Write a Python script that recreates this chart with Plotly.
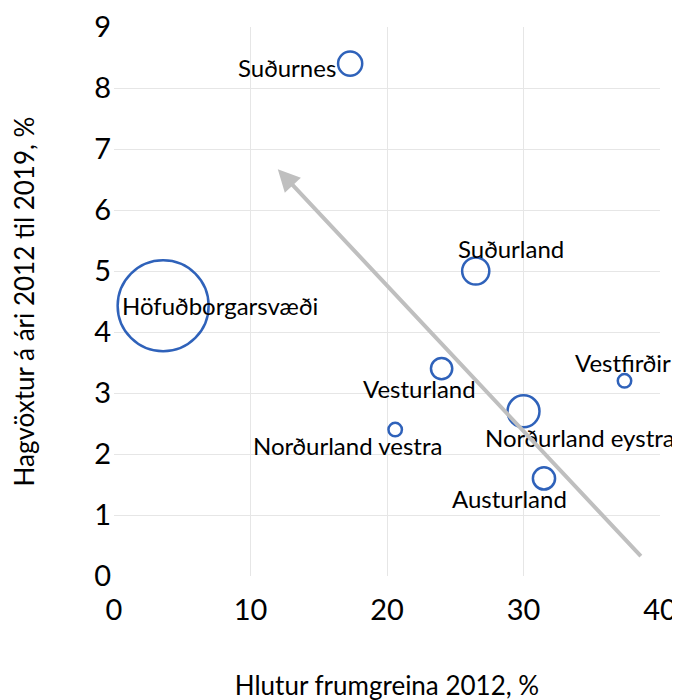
import plotly.graph_objects as go

# Data
regions = ["Höfuðborgarsvæði", "Suðurnes", "Suðurland", "Vesturland",
           "Norðurland vestra", "Norðurland eystra", "Austurland", "Vestfirðir"]
share_primary_2012 = [3.6, 17.3, 26.5, 24.0, 20.6, 30.0, 31.5, 37.4]
growth_2012_2019 = [4.43, 8.40, 5.00, 3.40, 2.40, 2.70, 1.60, 3.20]
bubble_value = [64.0, 4.5, 5.7, 3.5, 1.4, 7.9, 3.8, 1.4]

x_ticks = [0, 10, 20, 30, 40]
y_ticks = [0, 1, 2, 3, 4, 5, 6, 7, 8, 9]

# label offsets (pixels) from each bubble
label_shift = {
    "Höfuðborgarsvæði": (57, 0),
    "Suðurnes": (-63, -4),
    "Suðurland": (35, 23),
    "Vesturland": (-22, -20),
    "Norðurland vestra": (-48, -16),
    "Norðurland eystra": (56, -26),
    "Austurland": (-34, -20),
    "Vestfirðir": (-2, 18),
}

FONT = "Lato"
fig = go.Figure()
fig.add_trace(go.Scatter(
    x=share_primary_2012, y=growth_2012_2019, mode="markers",
    marker=dict(size=bubble_value, sizemode="area", sizeref=2 * 64.0 / 91 ** 2,
                color="rgba(255,255,255,0)", opacity=1,
                line=dict(color="#2F62BA", width=2.5)),
    showlegend=False, hoverinfo="text", text=regions, cliponaxis=False,
))

annotations = []
for name, xv, yv in zip(regions, share_primary_2012, growth_2012_2019):
    dx, dy = label_shift[name]
    annotations.append(dict(x=xv, y=yv, xref="x", yref="y", text=name,
                            showarrow=False, xshift=dx, yshift=dy,
                            font=dict(family=FONT, size=24, color="#000000")))

# trend arrow
annotations.append(dict(x=12.0, y=6.67, ax=38.7, ay=0.3, xref="x", yref="y",
                        axref="x", ayref="y", text="", showarrow=True,
                        arrowhead=2, arrowsize=1.1, arrowwidth=4,
                        arrowcolor="#BFBFBF"))

fig.update_layout(
    width=680, height=700,
    margin=dict(l=106, r=28, t=19, b=132),
    paper_bgcolor="white", plot_bgcolor="white",
    font=dict(family=FONT, color="#000000"),
    annotations=annotations,
    xaxis=dict(range=[0, 40], tickvals=x_ticks, showgrid=True, gridcolor="#E6E6E6",
               gridwidth=1, zeroline=False, showline=False, ticks="",
               tickfont=dict(size=29), automargin=False, ticklabelstandoff=14,
               title=dict(text="Hlutur frumgreina 2012, %", font=dict(size=26), standoff=51)),
    yaxis=dict(range=[0, 9], tickvals=y_ticks, showgrid=True, gridcolor="#E6E6E6",
               gridwidth=1, zeroline=False, showline=False, ticks="",
               tickfont=dict(size=29), automargin=False, ticklabelstandoff=2,
               title=dict(text="Hagvöxtur á ári 2012 til 2019, %", font=dict(size=26), standoff=54)),
)

fig.write_html("out.html")
